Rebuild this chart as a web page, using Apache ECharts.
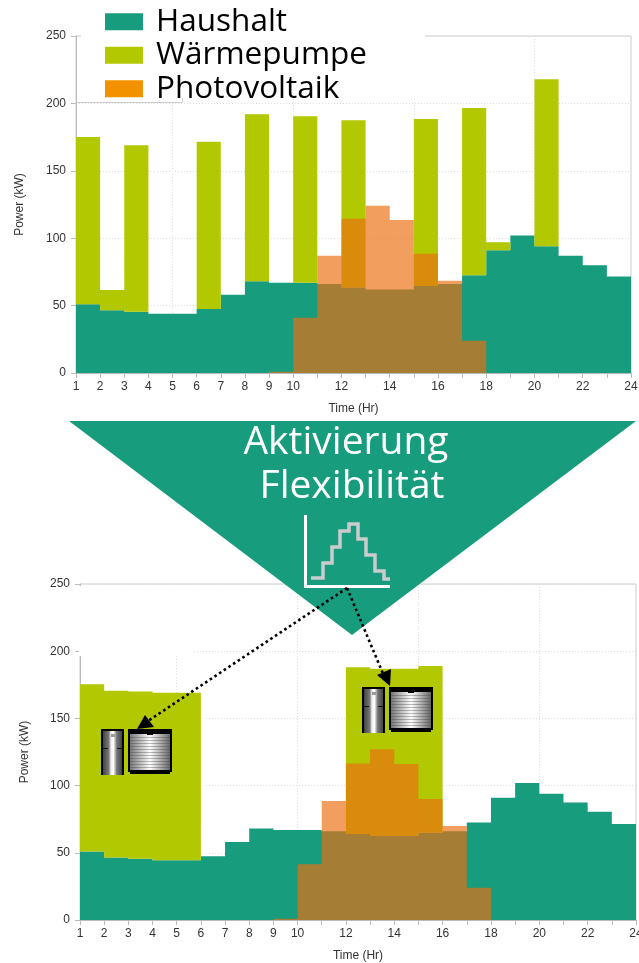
<!DOCTYPE html>
<html lang="de">
<head>
<meta charset="utf-8">
<title>Aktivierung Flexibilität</title>
<script src="https://cdn.jsdelivr.net/npm/echarts@6/dist/echarts.min.js"></script>
<style>
html, body { margin: 0; padding: 0; background: #fff; }
#chart { width: 639px; height: 963px; }
</style>
</head>
<body>
<div id="chart"></div>
<script>
// Hour boundaries on the time axis; each value below holds from its hour to the next one.
const hours = ['1','2','3','4','5','6','7','8','9','10','11','12','13','14','15','16','17','18','19','20','21','22','23','24'];
const yTicks = [0,50,100,150,200,250];

// Before flexibility is activated
const householdBefore = [51,46.5,45.5,44,44,47.5,58,68,67,67,66,63.5,62,62,64.5,66,72.5,91,102,94,87,80,71.5];
const heatPumpBefore  = [124,15,123.5,0,0,124,0,124,0,123.5,0,124,0,0,124,0,124,6,0,124,0,0,0];
const solarBefore     = [0,0,0,0,0,0,0,0,1,41,87,114.5,124,113.5,88.5,68.5,24,0,0,0,0,0,0];

// After flexibility is activated
const householdAfter = [51,46.5,45.5,44.5,44.5,47.5,58,68,67,67,66,64,62.5,62.5,65,66,72.5,91,102,94,87.5,80.5,71.5];
const heatPumpAfter  = [124.5,124,124.5,124.5,124.5,0,0,0,0,0,0,124,124.5,124.5,124,0,0,0,0,0,0,0,0];
const solarAfter     = [0,0,0,0,0,0,0,0,1,41.5,88.5,116.5,127,116,90,70,24,0,0,0,0,0,0];

const gridHours = ['5','10','15','20'];
const names = { household: 'Haushalt', heatPump: 'Wärmepumpe', solar: 'Photovoltaik' };
const colors = { household: '#179C7D', heatPump: '#B2C800', solar: '#F39200', solarArea: 'rgba(236,110,16,0.67)' };

const tickFont = { fontFamily: 'Liberation Sans', fontSize: 12, color: '#333' };
const dotted = { color: '#ddd', width: 1, type: [1, 2] };

const xAxis = (gridIndex, nameGap) => ({
  type: 'category', gridIndex, data: hours, boundaryGap: false,
  name: 'Time (Hr)', nameLocation: 'middle', nameGap,
  nameTextStyle: tickFont,
  axisLine: { show: true, onZero: false, lineStyle: { color: '#bbb' } },
  axisTick: { show: true, length: 5, interval: 0, lineStyle: { color: '#bbb' } },
  axisLabel: Object.assign({ margin: 8, interval: 0, hideOverlap: false,
    formatter: v => (+v > 10 && +v % 2 === 1) ? '' : v }, tickFont),
  splitLine: { show: true, interval: (i, v) => gridHours.includes(v), lineStyle: dotted }
});
const yAxis = (gridIndex, nameGap) => ({
  type: 'value', gridIndex, min: yTicks[0], max: yTicks[yTicks.length - 1], interval: 50,
  name: 'Power (kW)', nameLocation: 'middle', nameGap, nameRotate: 90,
  nameTextStyle: tickFont,
  axisLine: { show: true, lineStyle: { color: '#bbb' } },
  axisTick: { show: true, length: 5, lineStyle: { color: '#bbb' } },
  axisLabel: Object.assign({ margin: 10 }, tickFont),
  splitLine: { show: true, lineStyle: dotted }
});

// One hour-binned band between a lower and an upper profile, painted as a single
// shape so that neighbouring translucent bins leave no seams.
function band(name, upper, lower, axis, color, fill, z) {
  return {
    name, type: 'custom', coordinateSystem: 'cartesian2d', z, silent: true,
    xAxisIndex: axis, yAxisIndex: axis,
    data: upper.map((v, i) => [i, v]),
    encode: { x: 0, y: 1 },
    itemStyle: { color },
    renderItem(params, api) {
      if (params.dataIndex !== 0) return null;
      const top = [], bottom = [];
      upper.forEach((v, i) => {
        top.push(api.coord([i, v]), api.coord([i + 1, v]));
        bottom.push(api.coord([i, lower[i]]), api.coord([i + 1, lower[i]]));
      });
      return { type: 'polygon', shape: { points: top.concat(bottom.reverse()) }, style: { fill } };
    }
  };
}
function chartSeries(household, heatPump, solar, axis) {
  const floor = household.map(() => 0);
  const total = household.map((v, i) => v + heatPump[i]);
  return [
    band(names.household, household, floor, axis, colors.household, colors.household, 2),
    band(names.heatPump, total, household, axis, colors.heatPump, colors.heatPump, 2),
    band(names.solar, solar, floor, axis, colors.solar, colors.solarArea, 3)
  ];
}

// Storage tank pictograms: a slim hot water cylinder beside a wider ribbed buffer.
function tanks(x, y) {
  const z = 8, out = [];
  const rect = (rx, ry, w, h, fill) => out.push({ type: 'rect', z, silent: true, shape: { x: rx, y: ry, width: w, height: h }, style: { fill } });
  const shade = (stops) => ({ type: 'linear', x: 0, y: 0, x2: 1, y2: 0, colorStops: stops });
  const cyl = shade([{offset:0,color:'#444'},{offset:.3,color:'#777'},{offset:.42,color:'#eee'},{offset:.55,color:'#fff'},{offset:.72,color:'#777'},{offset:1,color:'#444'}]);
  const drum = shade([{offset:0,color:'#777'},{offset:.5,color:'#fff'},{offset:1,color:'#666'}]);
  rect(x, y, 23, 46, '#000');
  rect(x + 2, y + 2, 19, 44, cyl);
  rect(x + 2, y + 19, 5, 1, '#111');
  rect(x + 16, y + 19, 5, 1, '#111');
  rect(x + 10, y + 5, 4, 3, '#999');
  rect(x + 27, y, 44, 43, '#000');
  rect(x + 29, y + 5, 40, 36, drum);
  rect(x + 29, y + 43, 40, 2, '#000');
  for (let i = 0; i < 11; i++) rect(x + 29, y + 8 + i * 3, 40, 1, 'rgba(60,60,60,0.35)');
  rect(x + 46, y + 5, 6, 1, '#000');
  return out;
}

// Small step profile shown inside the triangle.
const profile = [[311,578],[323,578],[323,563],[332,563],[332,547],[340,547],[340,531],[349,531],[349,524],[358,524],[358,539],[366,539],[366,555],[375,555],[375,571],[384,571],[384,579],[390,579]];

const dots = { stroke: '#000', lineWidth: 2.6, lineDash: [2.6, 3], fill: null };
const annotation = [
  // white panels behind the legend
  { type: 'rect', z: 3, silent: true, shape: { x: 81, y: 0, width: 344, height: 97 }, style: { fill: '#fff' } },
  { type: 'rect', z: 3, silent: true, shape: { x: 77, y: 97, width: 105, height: 5 }, style: { fill: '#fff' } },
  { type: 'line', z: 3, silent: true, shape: { x1: 76, y1: 102.5, x2: 182, y2: 102.5 }, style: { stroke: '#ccc', lineWidth: 1 } },
  { type: 'line', z: 3, silent: true, shape: { x1: 182.5, y1: 98, x2: 182.5, y2: 102 }, style: { stroke: '#ccc', lineWidth: 1 } },
  { type: 'rect', z: 3, silent: true, shape: { x: 79, y: 586, width: 115, height: 70 }, style: { fill: '#fff' } },
  // activation triangle
  { type: 'polygon', z: 5, silent: true, shape: { points: [[69,421],[636,421],[352,635]] }, style: { fill: colors.household } },
  { type: 'text', z: 6, silent: true, x: 346, y: 443, style: { text: 'Aktivierung', fill: '#fff', font: '39px "Open Sans"', textAlign: 'center', textVerticalAlign: 'middle' } },
  { type: 'text', z: 6, silent: true, x: 352, y: 487, style: { text: 'Flexibilität', fill: '#fff', font: '39px "Open Sans"', textAlign: 'center', textVerticalAlign: 'middle' } },
  { type: 'polyline', z: 6, silent: true, shape: { points: [[305.5,515],[305.5,586.5],[390,586.5]] }, style: { stroke: '#fff', lineWidth: 3, fill: null } },
  { type: 'polyline', z: 6, silent: true, shape: { points: profile }, style: { stroke: '#ccc', lineWidth: 3.5, fill: null } },
  // activation arrows
  ...tanks(101, 729),
  ...tanks(362, 687),
  { type: 'line', z: 9, silent: true, shape: { x1: 347, y1: 588, x2: 148, y2: 721 }, style: dots },
  { type: 'line', z: 9, silent: true, shape: { x1: 347, y1: 588, x2: 384, y2: 676 }, style: dots },
  { type: 'polygon', z: 9, silent: true, shape: { points: [[137,729],[145,715],[154,727]] }, style: { fill: '#000' } },
  { type: 'polygon', z: 9, silent: true, shape: { points: [[390,686],[377,675],[391,669]] }, style: { fill: '#000' } }
];

const chart = echarts.init(document.getElementById('chart'), null, { renderer: 'canvas', width: 639, height: 963 });
chart.setOption({
  animation: false,
  backgroundColor: '#fff',
  grid: [
    { left: 76, right: 8, top: 36, height: 337, outerBoundsMode: 'none', show: true, borderColor: '#ccc', borderWidth: 1, backgroundColor: 'transparent' },
    { left: 80, right: 3, top: 584, height: 336, outerBoundsMode: 'none', show: true, borderColor: '#ccc', borderWidth: 1, backgroundColor: 'transparent' }
  ],
  legend: {
    orient: 'vertical', left: 105, top: 5, padding: 0, itemGap: 0,
    itemWidth: 38, itemHeight: 17, selectedMode: false, z: 4,
    icon: 'rect',
    data: [names.household, names.heatPump, names.solar],
    textStyle: { fontFamily: 'Open Sans', fontSize: 31.5, color: '#000', lineHeight: 33.5, padding: [0, 0, 0, 8] }
  },
  xAxis: [xAxis(0, 30), xAxis(1, 30)],
  yAxis: [yAxis(0, 50), yAxis(1, 49)],
  series: [
    ...chartSeries(householdBefore, heatPumpBefore, solarBefore, 0),
    ...chartSeries(householdAfter, heatPumpAfter, solarAfter, 1)
  ],
  graphic: { elements: annotation }
});
</script>
</body>
</html>
